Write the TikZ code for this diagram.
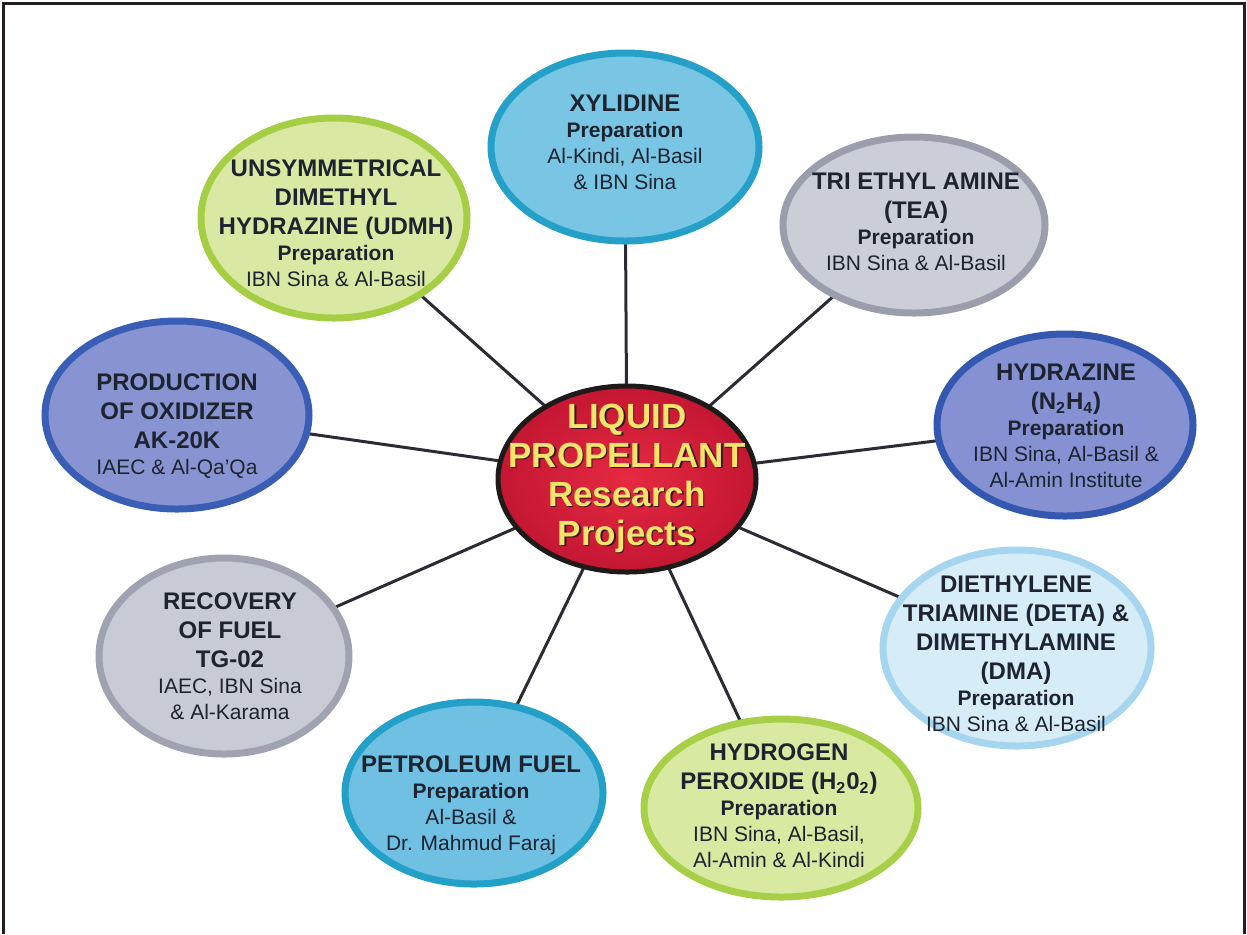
\documentclass[tikz,border=0pt]{standalone}
\usepackage{fontspec}
\setmainfont{Liberation Sans}
\usetikzlibrary{shapes.geometric,backgrounds}
\definecolor{ink}{HTML}{1E2330}
\definecolor{xylB}{HTML}{25A0C8}\definecolor{xylF}{HTML}{78C6E4}
\definecolor{udmhB}{HTML}{A6CE45}\definecolor{udmhF}{HTML}{D9E9A4}
\definecolor{teaB}{HTML}{9A9EAC}\definecolor{teaF}{HTML}{CBCED8}
\definecolor{hydB}{HTML}{3458B0}\definecolor{hydF}{HTML}{8591D2}
\definecolor{oxiB}{HTML}{3A5DB5}\definecolor{oxiF}{HTML}{8893D2}
\definecolor{recB}{HTML}{9FA3B1}\definecolor{recF}{HTML}{C8CBD5}
\definecolor{petB}{HTML}{23A0C8}\definecolor{petF}{HTML}{6FC0E2}
\definecolor{hoB}{HTML}{A8CF48}\definecolor{hoF}{HTML}{D8E9A2}
\definecolor{detaB}{HTML}{A6D5EF}\definecolor{detaF}{HTML}{D6ECF7}
\definecolor{redIn}{HTML}{E62A42}\definecolor{redOut}{HTML}{C41632}
\definecolor{redBorder}{HTML}{1E1A1A}
\definecolor{yel}{HTML}{F3E46A}\definecolor{yelShadow}{HTML}{3A1414}
\definecolor{linkc}{HTML}{2B2B33}
\definecolor{framec}{HTML}{231F20}
\newcommand\prepf{\fontsize{10.5}{13}\selectfont\bfseries}
\newcommand\regf{\fontsize{10.5}{13}\selectfont\mdseries}
\begin{document}
\begin{tikzpicture}[x=0.5pt,y=-0.5pt,
  bub/.style={ellipse, inner sep=0pt, line width=3.5pt},
  ttl/.style={align=center, text=ink, inner sep=0pt, font=\fontsize{12}{13}\selectfont\bfseries},
  link/.style={line width=1.5pt, draw=linkc},
  ctr/.style={align=center, inner sep=0pt, font=\fontsize{17.5}{19.5}\selectfont\bfseries}]
\useasboundingbox (0,0) rectangle (1247,934);
\draw[line width=1.5pt, draw=framec] (3,934) -- (3,3) -- (1244,3) -- (1244,934);

% center
\node[ellipse, inner sep=0pt, line width=2.5pt, draw=redBorder, shading=radial, inner color=redIn, outer color=redOut,
  minimum width=129pt, minimum height=93pt] (c) at (627,479) {};

% satellites
\node[bub, draw=xylB, fill=xylF, minimum width=134pt, minimum height=94pt] (xyl) at (625,147) {};
\node[bub, draw=udmhB, fill=udmhF, minimum width=133pt, minimum height=100pt] (udmh) at (334,218) {};
\node[bub, draw=teaB, fill=teaF, minimum width=131pt, minimum height=88pt] (tea) at (914,225) {};
\node[bub, draw=hydB, fill=hydF, minimum width=128pt, minimum height=91pt] (hyd) at (1065,425) {};
\node[bub, draw=oxiB, fill=oxiF, minimum width=132pt, minimum height=94pt] (oxi) at (177,415) {};
\node[bub, draw=recB, fill=recF, minimum width=125pt, minimum height=98pt] (rec) at (224,656) {};
\node[bub, draw=petB, fill=petF, minimum width=129pt, minimum height=91pt] (pet) at (474,793) {};
\node[bub, draw=hoB, fill=hoF, minimum width=137pt, minimum height=89pt] (ho) at (781,808) {};
\node[bub, draw=detaB, fill=detaF, minimum width=134pt, minimum height=98pt] (deta) at (1017,648) {};

% connectors
\begin{scope}[on background layer]
\foreach \t in {xyl,udmh,tea,hyd,oxi,rec,pet,ho,deta}
  \draw[link] (c.center) -- (\t.center);
\end{scope}

% texts
\node[ttl] (xyl-t) at (625,142) {XYLIDINE\\ \prepf Preparation\\ \regf Al-Kindi, Al-Basil\\ \regf \& IBN Sina};
\node[ttl] (udmh-t) at (336,223) {UNSYMMETRICAL\\[1.5pt] DIMETHYL\\[1.5pt] HYDRAZINE (UDMH)\\ \prepf Preparation\\ \regf IBN Sina \& Al-Basil};
\node[ttl] (tea-t) at (916,222) {TRI ETHYL AMINE\\[1.5pt] (TEA)\\ \prepf Preparation\\ \regf IBN Sina \& Al-Basil};
\node[ttl] (hyd-t) at (1066,426) {HYDRAZINE\\[1.5pt] (N\textsubscript{2}H\textsubscript{4})\\ \prepf Preparation\\ \regf IBN Sina, Al-Basil \&\\ \regf Al-Amin Institute};
\node[ttl] (oxi-t) at (177,426) {PRODUCTION\\[1.5pt] OF OXIDIZER\\[1.5pt] AK-20K\\ \regf IAEC \& Al-Qa’Qa};
\node[ttl] (rec-t) at (230,656) {RECOVERY\\[1.5pt] OF FUEL\\[1.5pt] TG-02\\ \regf IAEC, IBN Sina\\ \regf \& Al-Karama};
\node[ttl] (pet-t) at (471,805) {PETROLEUM FUEL\\ \prepf Preparation\\ \regf Al-Basil \&\\ \regf Dr. Mahmud Faraj};
\node[ttl] (ho-t) at (779,806) {HYDROGEN\\[1.5pt] PEROXIDE (H\textsubscript{2}0\textsubscript{2})\\ \prepf Preparation\\ \regf IBN Sina, Al-Basil,\\ \regf Al-Amin \& Al-Kindi};
\node[ttl] (deta-t) at (1016,654) {DIETHYLENE\\[1.5pt] TRIAMINE (DETA) \&\\[1.5pt] DIMETHYLAMINE\\[1.5pt] (DMA)\\ \prepf Preparation\\ \regf IBN Sina \& Al-Basil};

% center text with shadow
\node[ctr, text=yelShadow] (c-shadow) at (628.5,479.5) {LIQUID\\ PROPELLANT\\ Research\\ Projects};
\node[ctr, text=yel] (c-t) at (627,478) {LIQUID\\ PROPELLANT\\ Research\\ Projects};
\end{tikzpicture}
\end{document}
